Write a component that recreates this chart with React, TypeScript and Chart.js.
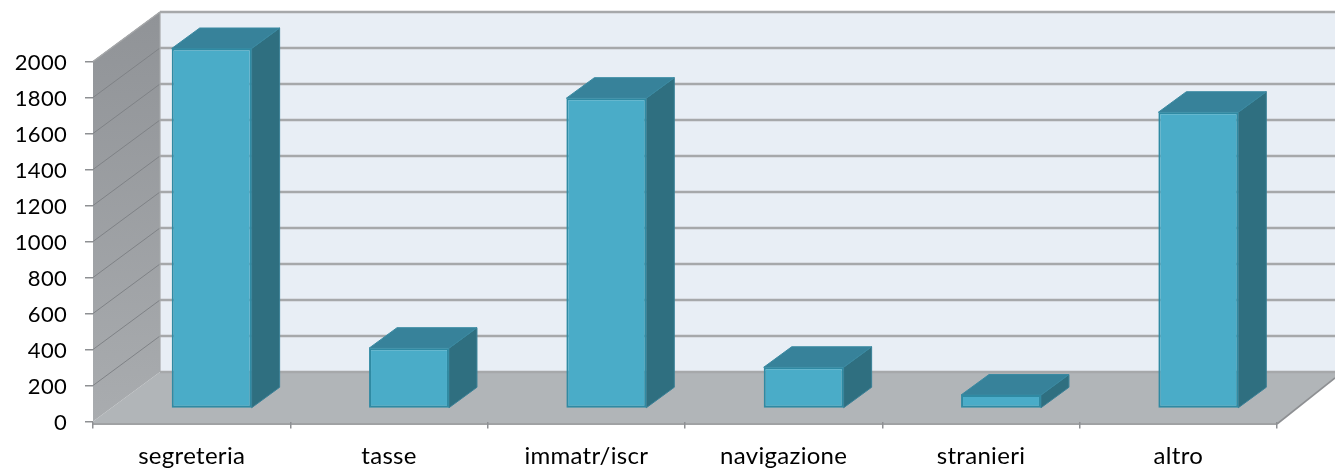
import React, { useEffect, useRef } from "react";
import { Chart, registerables } from "chart.js";

Chart.register(...registerables);

const categories = ["segreteria", "tasse", "immatr/iscr", "navigazione", "stranieri", "altro"];
const values = [2000, 335, 1724, 229, 75, 1646];
const yTicks = { min: 0, max: 2000, step: 200 };

const WALL_DX = 67;
const WALL_DY = -49.5;
const BAR_DX = 20;
const BAR_DY = -13;
const DEPTH_DX = 28;
const DEPTH_DY = -20.5;

const poly = (ctx: CanvasRenderingContext2D, pts: number[][], fill: any, stroke?: string, lw = 1) => {
  ctx.beginPath();
  pts.forEach((p, i) => (i ? ctx.lineTo(p[0], p[1]) : ctx.moveTo(p[0], p[1])));
  ctx.closePath();
  ctx.fillStyle = fill;
  ctx.fill();
  if (stroke) {
    ctx.strokeStyle = stroke;
    ctx.lineWidth = lw;
    ctx.stroke();
  }
};

const line = (ctx: CanvasRenderingContext2D, x1: number, y1: number, x2: number, y2: number, c: string, lw: number) => {
  ctx.beginPath();
  ctx.moveTo(x1, y1);
  ctx.lineTo(x2, y2);
  ctx.strokeStyle = c;
  ctx.lineWidth = lw;
  ctx.stroke();
};

const room3d = {
  id: "room3d",
  beforeDraw(chart: any) {
    const { ctx, chartArea: a, scales } = chart;
    const W = chart.width;
    const y = scales.y;
    const bx = a.left + WALL_DX;
    const floorFront = a.bottom + 2.5;
    const floorBack = a.bottom + WALL_DY;
    ctx.save();
    // back wall
    poly(ctx, [[bx, a.top + WALL_DY], [W, a.top + WALL_DY], [W, floorBack], [bx, floorBack]], "#e8eef5");
    // floor
    poly(ctx, [[a.left, a.bottom], [a.left, floorFront], [a.right, floorFront], [W, floorBack + 6], [W, floorBack], [bx, floorBack]], "#b1b5b8");
    // left wall
    const g = ctx.createLinearGradient(0, a.top + WALL_DY, 0, a.bottom);
    g.addColorStop(0, "#909397");
    g.addColorStop(1, "#a9acaf");
    poly(ctx, [[a.left, a.top], [bx, a.top + WALL_DY], [bx, floorBack], [a.left, a.bottom]], g);
    // grid lines from the y scale
    y.ticks.forEach((t: any) => {
      const py = y.getPixelForValue(t.value);
      if (t.value !== 0) line(ctx, a.left, py, bx, py + WALL_DY, "#7f8286", 1);
      line(ctx, bx, py + WALL_DY, W, py + WALL_DY, "#a6a8aa", 2.4);
    });
    line(ctx, a.left, a.top, bx, a.top + WALL_DY, "#a6a8aa", 1.5);
    line(ctx, bx, a.top + WALL_DY, bx, floorBack, "#a6a8aa", 1.2);
    // floor front edge and right diagonal
    line(ctx, a.left, floorFront, a.right, floorFront, "#a0a2a4", 2);
    line(ctx, a.right, floorFront, W, floorBack + 6, "#8e9093", 1.6);
    ctx.restore();
    ctx.letterSpacing = "0.3px";
  },
  beforeDatasetsDraw(chart: any) {
    const { ctx } = chart;
    ctx.save();
    ctx.translate(BAR_DX, BAR_DY);
    chart.getDatasetMeta(0).data.forEach((b: any) => {
      const l = b.x - b.width / 2;
      const r = b.x + b.width / 2;
      poly(ctx, [[r, b.y], [r + DEPTH_DX, b.y + DEPTH_DY], [r + DEPTH_DX, b.base + DEPTH_DY], [r, b.base]], "#2f6f80", "#3a8096", 1);
      poly(ctx, [[l, b.y], [l + DEPTH_DX, b.y + DEPTH_DY], [r + DEPTH_DX, b.y + DEPTH_DY], [r, b.y]], "#37829a", "#3a8aa2", 1);
    });
  },
  afterDatasetsDraw(chart: any) {
    chart.ctx.restore();
  },
};

export default function App() {
  const ref = useRef<HTMLCanvasElement>(null);
  useEffect(() => {
    const chart = new Chart(ref.current!, {
      type: "bar",
      data: {
        labels: categories,
        datasets: [
          {
            data: values,
            backgroundColor: "#4aacc8",
            borderColor: "#2f8aa3",
            borderWidth: 2,
            borderSkipped: false,
            categoryPercentage: 0.405,
            barPercentage: 1,
            clip: false,
          } as any,
        ],
      },
      plugins: [room3d],
      options: {
        responsive: false,
        animation: false,
        layout: { padding: { top: 61.5, right: 58, left: 0, bottom: 0 } },
        plugins: { legend: { display: false }, tooltip: { enabled: false } },
        scales: {
          x: {
            afterFit: (s: any) => { s.height = 47.5; },
            border: { display: false },
            grid: { drawOnChartArea: false, drawTicks: true, tickLength: 7, color: "#8e9093", lineWidth: 1.5 },
            ticks: { color: "#000", font: { family: "Lato", size: 24 }, padding: 13, maxRotation: 0 },
          },
          y: {
            min: yTicks.min,
            max: yTicks.max,
            afterFit: (s: any) => { s.width = 93; },
            border: { display: false },
            grid: { drawOnChartArea: false, drawTicks: true, tickLength: 8, color: "#8e9093", lineWidth: 1.5 },
            ticks: {
              stepSize: yTicks.step,
              color: "#000",
              font: { family: "Lato", size: 22 },
              padding: 18,
              labelOffset: 1.5,
              callback: (v: any) => String(v),
            },
          },
        },
      } as any,
    });
    return () => chart.destroy();
  }, []);
  return (
    <div style={{ position: "absolute", left: 0, top: 0, width: 1335, height: 469 }}>
      <canvas ref={ref} width={1335} height={469} style={{ display: "block" }} />
    </div>
  );
}
